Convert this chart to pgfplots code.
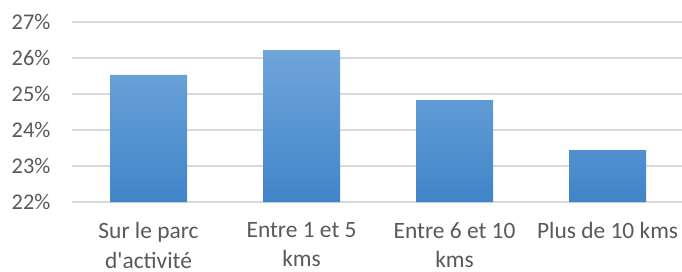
\documentclass[border=0pt]{standalone}
\usepackage{pgfplots}
\pgfplotsset{compat=1.18}
\usepackage{fontspec}
\setmainfont{Carlito}
\definecolor{txt}{RGB}{89,89,89}
\definecolor{grd}{RGB}{217,217,217}
\definecolor{btop}{RGB}{112,165,218}
\definecolor{bmid}{RGB}{91,155,213}
\definecolor{bbot}{RGB}{64,133,201}
\begin{document}
\begin{tikzpicture}[x=1bp,y=1bp]
\begin{axis}[
  scale only axis,
  width=610bp, height=180bp,
  xmin=-0.5, xmax=3.486,
  ymin=22, ymax=27,
  ytick={22,23,24,25,26,27},
  yticklabel={\pgfmathprintnumber{\tick}\%},
  xtick=data,
  xticklabels={{Sur le parc\\d\textquotesingle activité},{Entre 1 et 5\\kms},{Entre 6 et 10\\kms},{Plus de 10 kms}},
  axis line style={draw=none},
  major tick length=0pt,
  ymajorgrids,
  grid style={grd, line width=1.2bp},
  ticklabel style={text=txt},
  /pgf/number format/assume math mode=true,
  yticklabel style={xshift=-18bp, font=\fontsize{22.5}{27}\selectfont},
  xticklabel style={align=center, yshift=-17bp, anchor=north, font=\fontsize{23.5}{29.5}\selectfont},
  ybar, bar width=77bp,
  clip=false,
]
\addplot[draw=none, top color=btop, middle color=bmid, bottom color=bbot] coordinates {(0,25.53) (1,26.22) (2,24.83) (3,23.44)};
\end{axis}
\pgfresetboundingbox
\path (-72bp,-70bp) rectangle (610bp,202bp);
\end{tikzpicture}
\end{document}
